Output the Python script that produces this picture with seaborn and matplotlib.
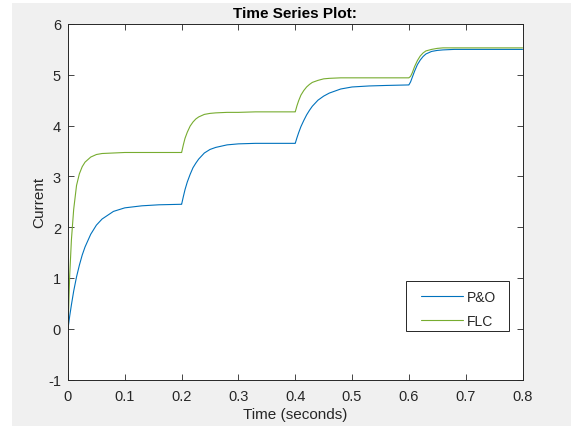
import numpy as np
import pandas as pd
import matplotlib
matplotlib.use("Agg")
import matplotlib.pyplot as plt
from matplotlib.patches import Rectangle
import seaborn as sns

# Sample times (s): denser right after each step change at 0, 0.2, 0.4, 0.6 s
time_s = [
    0.000, 0.003, 0.006, 0.010, 0.015, 0.020, 0.025, 0.030, 0.040, 0.050, 0.060, 0.080, 0.100, 0.130, 0.160, 0.199,
    0.200, 0.203, 0.206, 0.210, 0.215, 0.220, 0.225, 0.230, 0.240, 0.250, 0.260, 0.280, 0.300, 0.330, 0.360, 0.399,
    0.400, 0.403, 0.406, 0.410, 0.415, 0.420, 0.425, 0.430, 0.440, 0.450, 0.460, 0.480, 0.500, 0.530, 0.560, 0.599,
    0.600, 0.603, 0.606, 0.610, 0.615, 0.620, 0.625, 0.630, 0.640, 0.650, 0.660, 0.680, 0.700, 0.730, 0.760, 0.800,
]

# P&O controller current
po_current = [
    0.00, 0.25, 0.47, 0.74, 1.02, 1.25, 1.45, 1.61, 1.86, 2.04, 2.16, 2.31, 2.38, 2.42, 2.44, 2.45,
    2.45, 2.60, 2.74, 2.89, 3.04, 3.17, 3.26, 3.34, 3.46, 3.53, 3.57, 3.62, 3.64, 3.65, 3.65, 3.65,
    3.65, 3.76, 3.86, 3.98, 4.10, 4.21, 4.30, 4.38, 4.50, 4.58, 4.64, 4.72, 4.76, 4.78, 4.79, 4.80,
    4.80, 4.86, 4.95, 5.07, 5.20, 5.29, 5.36, 5.41, 5.46, 5.48, 5.49, 5.50, 5.50, 5.50, 5.50, 5.50,
]

# FLC controller current
flc_current = [
    0.00, 1.05, 1.75, 2.35, 2.82, 3.05, 3.19, 3.28, 3.38, 3.43, 3.45, 3.46, 3.47, 3.47, 3.47, 3.47,
    3.47, 3.62, 3.75, 3.87, 3.99, 4.07, 4.13, 4.17, 4.22, 4.24, 4.25, 4.26, 4.26, 4.27, 4.27, 4.27,
    4.27, 4.39, 4.49, 4.60, 4.69, 4.76, 4.81, 4.85, 4.89, 4.92, 4.93, 4.94, 4.94, 4.94, 4.94, 4.94,
    4.94, 4.97, 5.04, 5.16, 5.28, 5.37, 5.43, 5.47, 5.50, 5.52, 5.53, 5.53, 5.53, 5.53, 5.53, 5.53,
]

series_names = ["P&O", "FLC"]
series_colors = {"P&O": "#0072BD", "FLC": "#77AC30"}
x_ticks = [0, 0.1, 0.2, 0.3, 0.4, 0.5, 0.6, 0.7, 0.8]
x_tick_labels = ["0", "0.1", "0.2", "0.3", "0.4", "0.5", "0.6", "0.7", "0.8"]
y_ticks = [-1, 0, 1, 2, 3, 4, 5, 6]

df = pd.concat([
    pd.DataFrame({"t": time_s, "current": po_current, "series": series_names[0]}),
    pd.DataFrame({"t": time_s, "current": flc_current, "series": series_names[1]}),
], ignore_index=True)

sns.set_style("ticks")
plt.rcParams["font.family"] = ["Liberation Sans", "DejaVu Sans"]
plt.rcParams["axes.unicode_minus"] = False

W, H = 571, 427
fig = plt.figure(figsize=(W / 100, H / 100), dpi=100, facecolor="white")
fig.patches.append(Rectangle((12 / W, 0), 1 - 12 / W, 1 - 4 / H,
                             transform=fig.transFigure, facecolor="#f0f0f0",
                             edgecolor="none", zorder=-10))

ax = fig.add_axes([68 / W, 1 - 380.5 / H, 454.5 / W, 355.5 / H])
ax.set_facecolor("white")

sns.lineplot(data=df, x="t", y="current", hue="series", hue_order=series_names,
             palette=series_colors, estimator=None, sort=False,
             linewidth=0.8, ax=ax)

ax.set_xlim(0, 0.8)
ax.set_ylim(-1, 6)
ax.set_xticks(x_ticks)
ax.set_xticklabels(x_tick_labels)
ax.set_yticks(y_ticks)

dark = "#262626"
for side in ["left", "right", "top", "bottom"]:
    ax.spines[side].set_visible(True)
    ax.spines[side].set_color(dark)
    ax.spines[side].set_linewidth(0.7)
ax.tick_params(direction="in", top=True, right=True, length=4, width=0.6,
               color=dark, labelcolor=dark, labelsize=10.5)
ax.tick_params(axis="x", pad=7)
ax.tick_params(axis="y", pad=5)

ax.set_xlabel("Time (seconds)", fontsize=11, color=dark, labelpad=3)
ax.set_ylabel("Current", fontsize=11, color=dark, labelpad=1)
ax.set_title("Time Series Plot:", fontsize=11, fontweight="bold", color="black", pad=5)

# Legend box: wider side padding than top/bottom, so the frame is drawn separately
ax.add_patch(Rectangle((0.7437, 0.1364), 0.2266, 0.1407, transform=ax.transAxes,
                       facecolor="white", edgecolor=dark, linewidth=0.7, zorder=4))
handles, labels = ax.get_legend_handles_labels()
leg = ax.legend(handles, labels, loc="upper left", bbox_to_anchor=(0.7767, 0.252),
                borderaxespad=0, borderpad=0, frameon=False, fontsize=10,
                handlelength=3.0, handletextpad=0.3, labelspacing=0.75)
leg.set_zorder(5)
for line in leg.get_lines():
    line.set_linewidth(0.8)

fig.savefig("out.png", dpi=100, facecolor=fig.get_facecolor())
